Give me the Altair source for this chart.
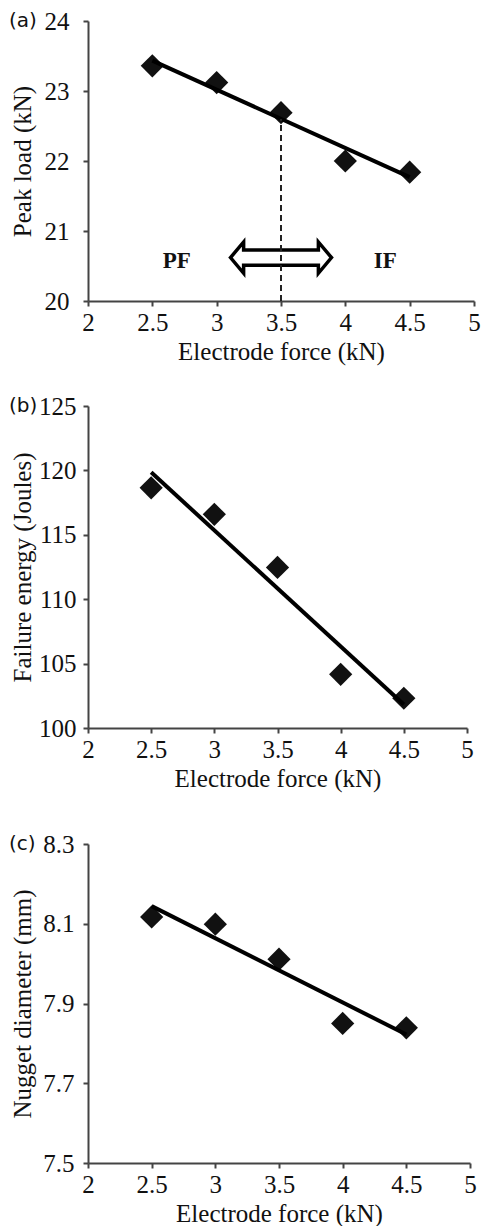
import altair as alt
import pandas as pd

# ---- data ----
force = [2.5, 3.0, 3.5, 4.0, 4.5]
peak_load = [23.36, 23.12, 22.69, 22.00, 21.84]
failure_energy = [118.65, 116.59, 112.47, 104.17, 102.31]
nugget_diameter = [8.117, 8.099, 8.011, 7.850, 7.839]

x_ticks = [2, 2.5, 3, 3.5, 4, 4.5, 5]
peak_ticks = [20, 21, 22, 23, 24]
energy_ticks = [100, 105, 110, 115, 120, 125]
nugget_ticks = [7.5, 7.7, 7.9, 8.1, 8.3]

# annotation of panel (a)
transition_force = [3.5]
transition_low = [20.0]
transition_high = [22.6]
arrow_load = [20.62]
zone_labels = ["PF", "IF"]
zone_force = [2.69, 4.31]
zone_load = [20.57, 20.57]

SERIF = "Liberation Serif, Times New Roman, serif"
INK = "#111111"
XTITLE = "Electrode force (kN)"
ARROW = ("M-1,0L-0.74,-0.31L-0.74,-0.15L0.74,-0.15L0.74,-0.31L1,0"
         "L0.74,0.31L0.74,0.15L-0.74,0.15L-0.74,0.31Z")

AXIS_STYLE = dict(domainColor="#444444", domainWidth=2, tickColor="#444444",
                  tickWidth=2, tickSize=5, labelFont=SERIF, labelFontSize=25,
                  labelColor=INK, titleFont=SERIF, titleFontSize=25,
                  titleFontWeight="normal", titleColor=INK, grid=False,
                  labelFlush=False, labelOverlap=False)


def enc_x(field):
    return alt.X(field, type="quantitative", title=XTITLE,
                 scale=alt.Scale(domain=[2, 5], nice=False, zero=False),
                 axis=alt.Axis(values=x_ticks, format="~g", labelPadding=4,
                               titlePadding=4, **AXIS_STYLE))


def enc_y(field, title, ticks, fmt, pad):
    return alt.Y(field, type="quantitative", title=title,
                 scale=alt.Scale(domain=[ticks[0], ticks[-1]], nice=False, zero=False),
                 axis=alt.Axis(values=ticks, format=fmt, labelPadding=pad,
                               titlePadding=3, minExtent=50, maxExtent=50,
                               **AXIS_STYLE))


def panel(values, ytitle, ticks, fmt, pad, tag, width, height, extra=(), spacer=None):
    df = pd.DataFrame({"force": force, "value": values})
    base = alt.Chart(df)
    X = enc_x("force")
    Y = enc_y("value", ytitle, ticks, fmt, pad)
    pts = base.mark_point(shape="diamond", filled=True, size=540,
                          color=INK, opacity=1).encode(x=X, y=Y)
    fit = base.transform_regression("force", "value").mark_line(
        color="#000000", strokeWidth=4).encode(x=X, y=Y)
    lab = alt.Chart(pd.DataFrame({"tag": [tag]})).mark_text(
        font="DejaVu Sans", fontSize=20, align="left", baseline="middle",
        color=INK).encode(x=alt.value(-79), y=alt.value(0), text="tag:N")
    layers = [pts, fit] + [e(X, Y) for e in extra] + [lab]
    ch = alt.layer(*layers).properties(width=width, height=height)
    if spacer:
        ch = ch.properties(title=alt.TitleParams(" ", fontSize=2, offset=spacer))
    return ch


def arrow_layer(X, Y):
    df = pd.DataFrame({"force": transition_force, "value": arrow_load})
    return alt.Chart(df).mark_point(shape=ARROW, size=10200, filled=True,
                                    fill="white", stroke="#000000",
                                    strokeWidth=3.5, opacity=1).encode(x=X, y=Y)


def rule_layer(X, Y):
    df = pd.DataFrame({"force": transition_force, "value": transition_low,
                       "high": transition_high})
    return alt.Chart(df).mark_rule(strokeDash=[6, 4], strokeWidth=2,
                                   color="#222222").encode(
        x=X, y=Y, y2=alt.Y2("high:Q"))


def zone_layer(X, Y):
    df = pd.DataFrame({"force": zone_force, "value": zone_load, "zone": zone_labels})
    return alt.Chart(df).mark_text(font=SERIF, fontSize=23, fontWeight="bold",
                                   color=INK, baseline="middle").encode(
        x=X, y=Y, text="zone:N")


pa = panel(peak_load, "Peak load (kN)", peak_ticks, "d", 14, "(a)", 386, 280,
           extra=(arrow_layer, rule_layer, zone_layer))
pb = panel(failure_energy, "Failure energy (Joules)", energy_ticks, "d", 7, "(b)", 379, 322)
pc = panel(nugget_diameter, "Nugget diameter (mm)", nugget_ticks, ".1f", 9, "(c)", 382, 319,
           spacer=9)

chart = alt.vconcat(pa, pb, pc, spacing=30).properties(
    padding={"left": 1, "top": 1, "right": 0, "bottom": 0}
).configure_view(stroke=None)

chart.save("out.html", embed_options={"renderer": "svg", "actions": False})
